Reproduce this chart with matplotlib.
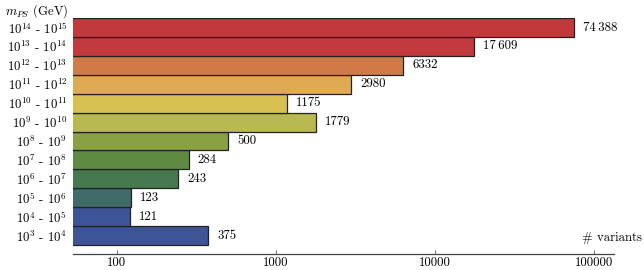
import matplotlib.pyplot as plt
import matplotlib.ticker as mticker

plt.rcParams['font.family'] = ['cmr10', 'DejaVu Serif']
plt.rcParams['mathtext.fontset'] = 'cm'
plt.rcParams['axes.formatter.use_mathtext'] = True

# bins of m_PS, bottom to top
exp_lo = [3, 4, 5, 6, 7, 8, 9, 10, 11, 12, 13, 14]
counts = [375, 121, 123, 243, 284, 500, 1779, 1175, 2980, 6332, 17609, 74388]
colors = ['#3d5597', '#3d5597', '#3f6b68', '#467a4e', '#5e8a42', '#8aa045',
          '#b8ba50', '#d8c152', '#e0aa55', '#d07a48', '#c23a3e', '#c03a3c']

FS = 9.2

fig = plt.figure(figsize=(6.44, 2.70), dpi=100)
ax = fig.add_axes([0.1129, 0.0593, 0.8405, 0.874])

ypos = list(range(len(counts)))
ax.barh(ypos, counts, height=1.0, color=colors, edgecolor='#222222',
        linewidth=0.9)
ax.set_xscale('log')
ax.set_xlim(52.9, 133600)
ax.set_ylim(-0.97, 11.5)

for y, c in zip(ypos, counts):
    txt = f'{c:,}'.replace(',', '\u2009') if c >= 10000 else str(c)
    ax.text(c * 1.14, y, txt, va='center', ha='left', fontsize=FS,
            family=['cmr10', 'DejaVu Serif'])

ax.set_yticks(ypos)
ax.set_yticklabels([rf'$10^{{{e}}}$ - $10^{{{e + 1}}}$' for e in exp_lo],
                   fontsize=FS)
ax.tick_params(axis='y', length=0, pad=4)

ax.xaxis.set_major_locator(mticker.FixedLocator([100, 1000, 10000, 100000]))
ax.xaxis.set_major_formatter(mticker.FixedFormatter(['100', '1000', '10000', '100000']))
ax.xaxis.set_minor_locator(mticker.NullLocator())
ax.tick_params(axis='x', direction='in', length=3, width=0.6, labelsize=FS,
               pad=2, color='#555555')

for s in ['top', 'right', 'left']:
    ax.spines[s].set_visible(False)
ax.spines['bottom'].set_color('#444444')
ax.spines['bottom'].set_linewidth(0.9)

fig.text(5 / 644, 1 - 2 / 270, r'$m_{PS}$ (GeV)', ha='left', va='top',
         fontsize=FS)
fig.text(642 / 644, 1 - 238 / 270, '# variants', ha='right', va='center',
         fontsize=FS, family=['cmr10', 'DejaVu Serif'])

fig.savefig('out.png', dpi=100)
